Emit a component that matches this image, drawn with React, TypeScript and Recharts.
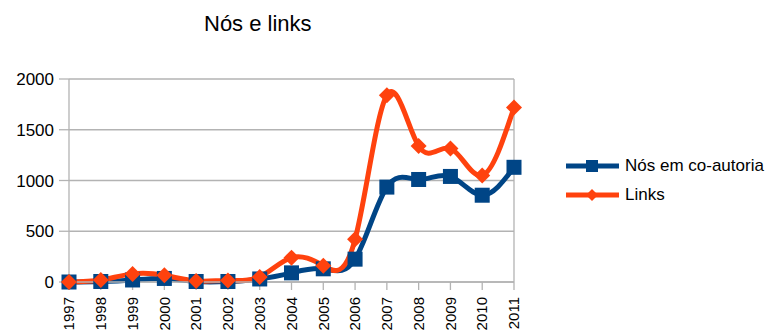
import React from "react";
import {
    CartesianGrid,
    Line,
    LineChart,
    ReferenceLine,
    XAxis,
    YAxis,
} from "recharts";

const years = [
    "1997", "1998", "1999", "2000", "2001", "2002", "2003", "2004",
    "2005", "2006", "2007", "2008", "2009", "2010", "2011",
];
const nosValues = [0, 5, 20, 35, 5, 5, 30, 90, 130, 225, 935, 1010, 1040, 855, 1130];
const linksValues = [0, 20, 80, 66, 10, 15, 50, 240, 160, 420, 1840, 1340, 1315, 1050, 1720];
const yTicks = [0, 500, 1000, 1500, 2000];

const BLUE = "#004586";
const ORANGE = "#ff420e";
const GRID = "#b3b3b3";
const FONT = "'Liberation Sans', Arial, sans-serif";

const data = years.map((year, i) => ({
    year,
    nos: nosValues[i],
    links: linksValues[i],
}));

function SquareDot({ cx, cy }: any) {
    if (cx == null || cy == null) return null;
    return <rect x={cx - 7.5} y={cy - 7.5} width={15} height={15} fill={BLUE} />;
}

function DiamondDot({ cx, cy }: any) {
    if (cx == null || cy == null) return null;
    const r = 8;
    return (
        <path
            d={`M${cx},${cy - r} L${cx + r},${cy} L${cx},${cy + r} L${cx - r},${cy} Z`}
            fill={ORANGE}
        />
    );
}

function YearTick({ x, y, payload }: any) {
    return (
        <text
            x={x}
            y={y}
            transform={`rotate(-90 ${x} ${y})`}
            textAnchor="end"
            dy="0.35em"
            fontSize={15}
            fontFamily={FONT}
            fill="#000"
        >
            {payload.value}
        </text>
    );
}

function LegendRow({ color, label, marker }: { color: string; label: string; marker: "square" | "diamond" }) {
    return (
        <div style={{ display: "flex", alignItems: "center", height: 29 }}>
            <svg width={60} height={20}>
                <line x1={1} y1={10} x2={54} y2={10} stroke={color} strokeWidth={5} />
                {marker === "square" ? (
                    <rect x={21} y={4} width={12} height={12} fill={color} />
                ) : (
                    <path d="M27,4 L33,10 L27,16 L21,10 Z" fill={color} />
                )}
            </svg>
            <span style={{ fontSize: 17, fontFamily: FONT, color: "#000" }}>{label}</span>
        </div>
    );
}

export default function App() {
    return (
        <div style={{ position: "absolute", left: 0, top: 0, width: 778, height: 334, background: "#fff" }}>
            <div
                style={{
                    position: "absolute",
                    left: 204,
                    top: 11,
                    fontSize: 22,
                    fontFamily: FONT,
                    color: "#000",
                    whiteSpace: "nowrap",
                }}
            >
                Nós e links
            </div>
            <LineChart
                width={778}
                height={334}
                data={data}
                margin={{ top: 79, right: 264, bottom: 0, left: 9 }}
            >
                <CartesianGrid vertical={false} stroke={GRID} strokeWidth={1.3} />
                <ReferenceLine x="2011" stroke={GRID} strokeWidth={1.3} />
                <XAxis
                    dataKey="year"
                    height={52}
                    interval={0}
                    stroke={GRID}
                    strokeWidth={1.3}
                    tickSize={8}
                    tickMargin={7}
                    tick={<YearTick />}
                />
                <YAxis
                    width={60}
                    domain={[0, 2000]}
                    ticks={yTicks}
                    stroke={GRID}
                    strokeWidth={1.3}
                    tickSize={10}
                    tickMargin={5}
                    tick={{ fontSize: 17, fontFamily: FONT, fill: "#000" }}
                />
                <Line
                    type="natural"
                    dataKey="nos"
                    stroke={BLUE}
                    strokeWidth={5}
                    dot={<SquareDot />}
                    activeDot={false}
                    isAnimationActive={false}
                />
                <Line
                    type="natural"
                    dataKey="links"
                    stroke={ORANGE}
                    strokeWidth={5}
                    dot={<DiamondDot />}
                    activeDot={false}
                    isAnimationActive={false}
                />
            </LineChart>
            <div style={{ position: "absolute", left: 565, top: 151 }}>
                <LegendRow color={BLUE} label="Nós em co-autoria" marker="square" />
                <LegendRow color={ORANGE} label="Links" marker="diamond" />
            </div>
        </div>
    );
}
